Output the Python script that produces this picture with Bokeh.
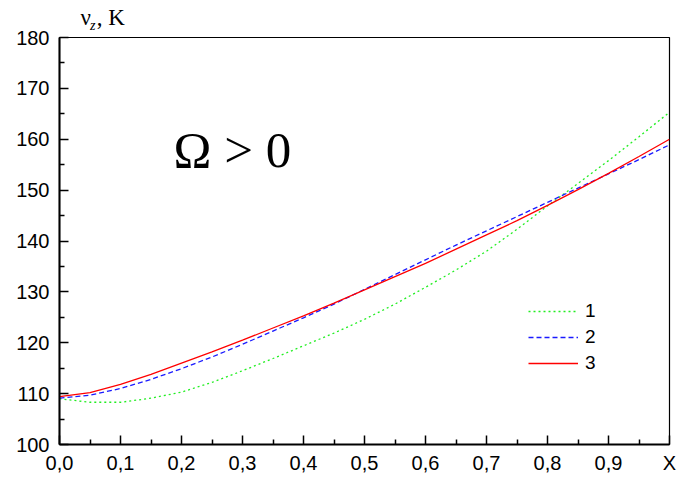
from bokeh.plotting import figure
from bokeh.models import FixedTicker, Label, Legend, LegendItem, Range1d
from bokeh.embed import file_html
from bokeh.resources import INLINE

# ---- data ----
x_vals = [0.0, 0.05, 0.1, 0.15, 0.2, 0.25, 0.3, 0.35, 0.4, 0.45, 0.5,
          0.55, 0.6, 0.65, 0.7, 0.75, 0.8, 0.85, 0.9, 0.95, 1.0]
series1 = [109.0, 108.3, 108.3, 109.1, 110.3, 112.2, 114.5, 116.9, 119.4, 121.9, 124.6,
           127.6, 130.9, 134.3, 138.0, 142.3, 146.9, 151.3, 155.8, 160.5, 165.3]
series2 = [109.1, 109.7, 111.0, 112.8, 114.9, 117.2, 119.7, 122.3, 124.9, 127.6, 130.5,
           133.4, 136.3, 139.2, 142.0, 144.8, 147.6, 150.4, 153.2, 156.0, 158.9]
series3 = [109.4, 110.2, 111.8, 113.8, 116.0, 118.2, 120.5, 122.9, 125.3, 127.8, 130.4,
           133.0, 135.6, 138.4, 141.2, 144.0, 147.0, 150.1, 153.3, 156.6, 160.0]
series_labels = ["1", "2", "3"]

x_ticks = [0.0, 0.1, 0.2, 0.3, 0.4, 0.5, 0.6, 0.7, 0.8, 0.9, 1.0]
x_tick_labels = ["0,0", "0,1", "0,2", "0,3", "0,4", "0,5", "0,6", "0,7", "0,8", "0,9", "X"]
x_minor_ticks = [0.05, 0.15, 0.25, 0.35, 0.45, 0.55, 0.65, 0.75, 0.85, 0.95]
y_ticks = [100, 110, 120, 130, 140, 150, 160, 170, 180]
y_minor_ticks = [105, 115, 125, 135, 145, 155, 165, 175]

# ---- figure ----
p = figure(width=679, height=480, output_backend="svg", toolbar_location=None,
           x_range=Range1d(0, 1), y_range=Range1d(100, 180),
           min_border_left=59, min_border_right=10, min_border_top=37, min_border_bottom=36)
p.xgrid.visible = False
p.ygrid.visible = False
p.outline_line_color = "black"
p.outline_line_width = 1.2
p.background_fill_color = "white"
p.border_fill_color = "white"

p.xaxis.ticker = FixedTicker(ticks=x_ticks, minor_ticks=x_minor_ticks)
p.xaxis.major_label_overrides = {t: l for t, l in zip(x_ticks, x_tick_labels)}
p.yaxis.ticker = FixedTicker(ticks=y_ticks, minor_ticks=y_minor_ticks)

for ax in (p.xaxis[0], p.yaxis[0]):
    ax.axis_line_width = 2
    ax.axis_line_color = "black"
    ax.major_tick_in = 9
    ax.major_tick_out = 0
    ax.minor_tick_in = 5
    ax.minor_tick_out = 0
    ax.major_tick_line_width = 1.5
    ax.minor_tick_line_width = 1.5
    ax.major_label_text_font = "Liberation Sans"
    ax.major_label_text_font_size = "20px"
    ax.major_label_text_color = "black"
p.xaxis.major_label_standoff = 7
p.yaxis.major_label_standoff = 10

r1 = p.line(x_vals, series1, line_color="#22ee22", line_dash="2 3", line_width=1.3)
r2 = p.line(x_vals, series2, line_color="#1a1aff", line_dash="5 3", line_width=1.3)
r3 = p.line(x_vals, series3, line_color="#ff0000", line_width=1.3)

legend = Legend(items=[LegendItem(label=series_labels[0], renderers=[r1]),
                       LegendItem(label=series_labels[1], renderers=[r2]),
                       LegendItem(label=series_labels[2], renderers=[r3])],
                location=(469, 68), glyph_width=50, glyph_height=26, label_height=26,
                spacing=0, padding=0, margin=0, border_line_color=None,
                background_fill_alpha=0, label_standoff=7,
                label_text_font="Liberation Sans", label_text_font_size="19px",
                label_text_color="black")
p.add_layout(legend)

# annotation inside the frame
p.add_layout(Label(x=0.187, y=163.4, text="Ω > 0", text_font="Liberation Serif",
                   text_font_size="51px", text_baseline="top", text_align="left",
                   text_color="black"))

# axis title (outside frame, placed in side panels so it is not clipped)
p.add_layout(Label(x=0.0344, y=186.3, text="ν , K", text_font="Liberation Serif",
                   text_font_size="23px", text_baseline="top", text_align="left",
                   text_color="black"), "above")
p.add_layout(Label(x=0.050, y=183.8, text="z", text_font="Liberation Serif",
                   text_font_style="italic", text_font_size="14px",
                   text_baseline="top", text_align="left", text_color="black"), "left")

open("out.html", "w").write(file_html(p, INLINE))
